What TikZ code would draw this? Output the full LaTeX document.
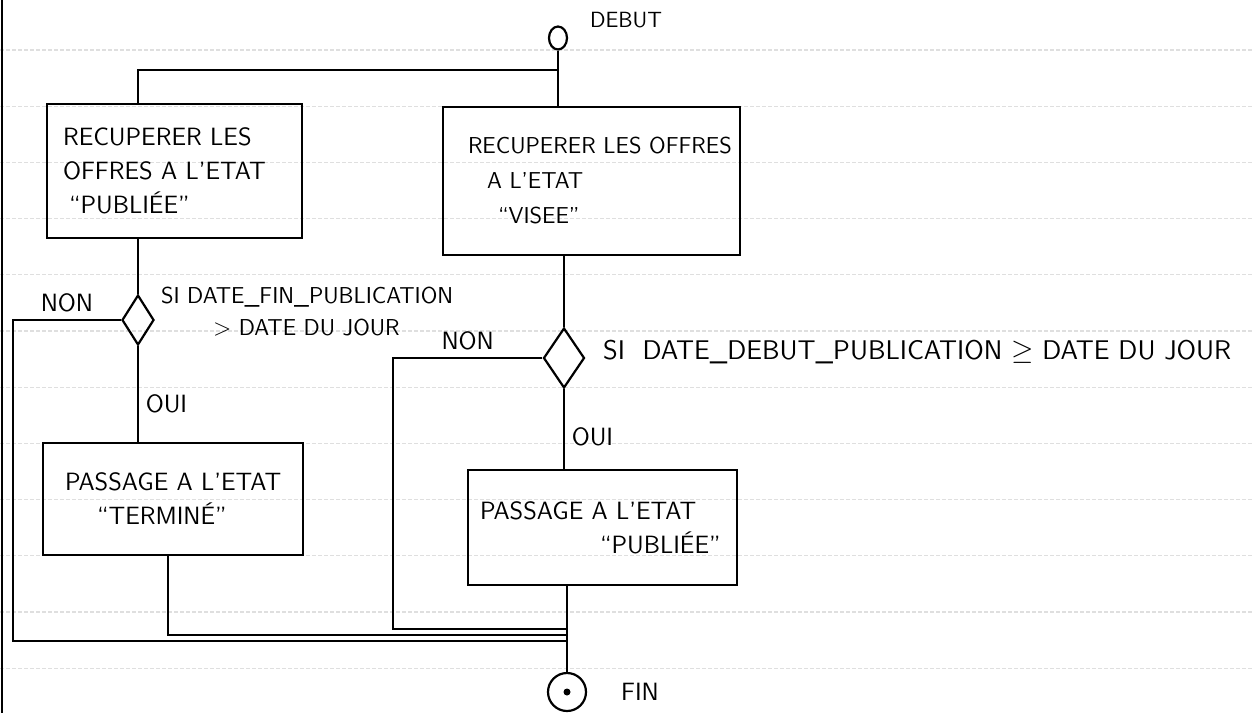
\documentclass[tikz,border=0pt]{standalone}
\usepackage{tikz}
\usetikzlibrary{positioning,shapes.geometric}

\begin{document}
\begin{tikzpicture}[x=0.5pt,y=-0.5pt,line width=1.1pt,
  font=\sffamily\fontsize{12.5}{17}\selectfont]
\tikzstyle{etape}=[draw,line width=1.3pt,align=left,inner ysep=0pt]
\tikzstyle{choix}=[draw,diamond,inner sep=0pt]
\tikzstyle{lbl}=[inner sep=2pt]
\tikzstyle{ligne}=[draw=gray!25,line width=0.6pt,dash pattern=on 2pt off 1pt]
\useasboundingbox (0,0) rectangle (1253,713);

% papier
\foreach \k in {0,...,11}
  \draw[ligne] (0,50+56.2*\k) -- (1253,50+56.2*\k);
\draw[line width=1.2pt] (2,0) -- (2,713);

\node[draw,ellipse,minimum width=9pt,minimum height=11.5pt,inner sep=0pt] (debut) at (558,38) {};
\node[lbl,font=\sffamily\fontsize{11}{13}\selectfont] (debutlbl) at (626,20) {DEBUT};

\node[etape,minimum width=127.5pt,minimum height=67pt,text width=111.5pt] (rec1) at (174.5,171)
  {\mbox{RECUPERER LES}\\\mbox{OFFRES A L'ETAT}\\\hspace{3pt}``PUBLIÉE''};
\node[etape,minimum width=148.5pt,minimum height=74pt,text width=123.5pt,
  font=\sffamily\fontsize{11.5}{17.5}\selectfont] (rec2) at (591.5,181)
  {\mbox{RECUPERER LES OFFRES}\\\hspace{9.5pt}A L'ETAT\\\hspace{15pt}``VISEE''};

\node[choix,minimum width=16pt,minimum height=25pt] (si1) at (138,320) {};
\node[choix,minimum width=20.5pt,minimum height=30pt] (si2) at (564,358) {};
\node[lbl,anchor=west,align=left,font=\sffamily\fontsize{11.5}{16}\selectfont] (cond1) at (156,312)
  {SI DATE\_FIN\_PUBLICATION\\\hspace{26pt}$>$ DATE DU JOUR};
\node[lbl,anchor=west,font=\sffamily\fontsize{13.5}{16}\selectfont] (cond2) at (598,352)
  {SI\ \ DATE\_DEBUT\_PUBLICATION $\geq$ DATE DU JOUR};

\node[etape,minimum width=130pt,minimum height=56pt,text width=108pt] (pass1) at (173,499)
  {\mbox{PASSAGE A L'ETAT}\\\hspace{16pt}``TERMINÉ''};
\node[etape,minimum width=134.5pt,minimum height=57.5pt,text width=122.5pt] (pass2) at (602.5,527.5)
  {\mbox{PASSAGE A L'ETAT}\\\hspace{60pt}``PUBLIÉE''};

\node[draw,circle,minimum size=19pt,inner sep=0pt] (fin) at (567,692) {};
\node[fill,circle,minimum size=3.5pt,inner sep=0pt] (findot) at (fin) {};
\node[lbl] (finlbl) at (640,692) {FIN};

% liaisons
\draw (debut.south) -- (debut.south |- rec2.north);
\draw (debut |- 0,70) -| (si1 |- rec1.north);
\draw (rec1.south -| si1) -- (si1.north);
\draw (si1.south) -- (si1.south |- pass1.north) node[pos=0.6,right]{OUI};
\draw (rec2.south -| si2) -- (si2.north);
\draw (si2.south) -- (si2.south |- pass2.north) node[pos=0.6,right]{OUI};
\draw (pass2.south -| fin) -- (fin.north);

\coordinate (ret1) at (13,641);
\coordinate (ret2) at (393,629);
\coordinate (ret3) at (168,635);
\draw (si1.west) -| (ret1) node[pos=0.25,above]{NON} -- (ret1 -| fin);
\draw (si2.west) -| (ret2) node[pos=0.25,above]{NON} -- (ret2 -| fin);
\draw (ret3 |- pass1.south) -- (ret3) -- (ret3 -| fin);
\end{tikzpicture}
\end{document}
